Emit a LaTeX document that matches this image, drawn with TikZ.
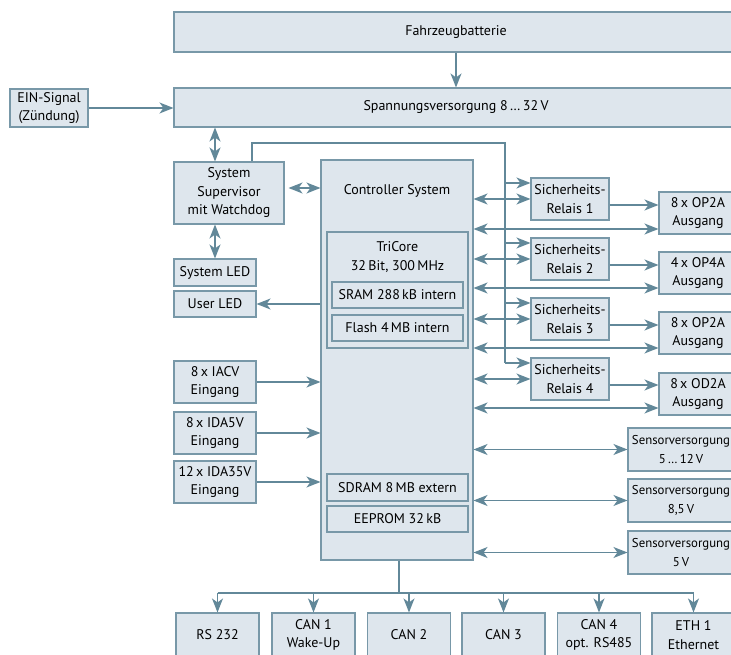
\documentclass[tikz,border=0pt]{standalone}
\usepackage{fontspec}
\setmainfont{PT Sans}
\usetikzlibrary{arrows.meta}

\definecolor{boxfill}{RGB}{222,230,237}
\definecolor{boxline}{RGB}{120,152,168}
\definecolor{arrline}{RGB}{98,136,153}

\tikzset{
	blk/.style={draw=boxline, fill=boxfill, line width=1.1pt, inner sep=0pt, align=center, font=\fontsize{14}{18.5}\selectfont},
	sensblk/.style={blk, font=\fontsize{12.8}{18.5}\selectfont},
	txt/.style={inner sep=0pt, align=center, font=\fontsize{14}{18.5}\selectfont},
	wire/.style={draw=arrline, line width=1.3pt},
	arr/.style={wire, -{Stealth[length=14pt,width=11pt,inset=4pt]}},
	dbl/.style={wire, {Stealth[length=14pt,width=11pt,inset=4pt]}-{Stealth[length=14pt,width=11pt,inset=4pt]}}
}

\begin{document}
\begin{tikzpicture}[x=1pt,y=1pt]
		\useasboundingbox (0,0) rectangle (731,655);
		\clip (0,0) rectangle (731,655);

		% power
		\node[blk, minimum width=564pt, minimum height=40pt] (batt) at (456,623) {Fahrzeugbatterie};
		\node[blk, minimum width=564pt, minimum height=39pt] (spann) at (456,547.5) {Spannungsversorgung 8\,…\,32\,V};
		\node[blk, minimum width=78pt, minimum height=38pt] (ein) at (49,547) {EIN-Signal\\(Zündung)};

		% left column
		\node[blk, minimum width=110pt, minimum height=62pt] (sup) at (229,462) {System\\Supervisor\\mit Watchdog};
		\node[blk, minimum width=82pt, minimum height=27pt] (sysled) at (215,382.5) {System LED};
		\node[blk, minimum width=82pt, minimum height=26pt] (userled) at (215,351) {User LED};
		\node[blk, minimum width=82pt, minimum height=42pt] (iacv) at (215,273) {8\,x IACV\\Eingang};
		\node[blk, minimum width=82pt, minimum height=42pt] (ida5) at (215,222) {8\,x IDA5V\\Eingang};
		\node[blk, minimum width=82pt, minimum height=42pt] (ida35) at (215,173) {12\,x IDA35V\\Eingang};

		% controller
		\node[blk, minimum width=152pt, minimum height=400pt] (ctrl) at (397,295) {};
		\node[txt] (ctrltitle) at (397,464) {Controller System};
		\node[blk, minimum width=141pt, minimum height=116pt] (tricore) at (397.5,365) {};
		\node[txt] (tricoretitle) at (397.5,398) {TriCore\\32\,Bit, 300\,MHz};
		\node[blk, minimum width=131pt, minimum height=26pt] (sram) at (397.5,360) {SRAM 288\,kB intern};
		\node[blk, minimum width=131pt, minimum height=26pt] (flash) at (397.5,327) {Flash 4\,MB intern};
		\node[blk, minimum width=141pt, minimum height=27pt] (sdram) at (397.5,167.5) {SDRAM 8\,MB extern};
		\node[blk, minimum width=141pt, minimum height=26pt] (eeprom) at (397.5,136) {EEPROM 32\,kB};

		% relays and outputs
		\node[blk, minimum width=78pt, minimum height=42pt] (relais1) at (570,456) {Sicherheits-\\Relais 1};
		\node[blk, minimum width=78pt, minimum height=42pt] (relais2) at (570,396) {Sicherheits-\\Relais 2};
		\node[blk, minimum width=78pt, minimum height=42pt] (relais3) at (570,336) {Sicherheits-\\Relais 3};
		\node[blk, minimum width=78pt, minimum height=42pt] (relais4) at (570,276) {Sicherheits-\\Relais 4};
		\node[blk, minimum width=78pt, minimum height=42pt] (out1) at (698,442) {8\,x OP2A\\Ausgang};
		\node[blk, minimum width=78pt, minimum height=42pt] (out2) at (698,382) {4\,x OP4A\\Ausgang};
		\node[blk, minimum width=78pt, minimum height=42pt] (out3) at (698,322) {8\,x OP2A\\Ausgang};
		\node[blk, minimum width=78pt, minimum height=42pt] (out4) at (698,261) {8\,x OD2A\\Ausgang};

		% sensor supplies
		\node[sensblk, minimum width=106pt, minimum height=43pt] (sens1) at (681,205.5) {Sensorversorgung\\5\,…\,12\,V};
		\node[sensblk, minimum width=106pt, minimum height=43pt] (sens2) at (681,154.5) {Sensorversorgung\\8,5\,V};
		\node[sensblk, minimum width=106pt, minimum height=43pt] (sens3) at (681,102.5) {Sensorversorgung\\5\,V};

		% bus
		\node[blk, minimum width=83pt, minimum height=44pt] (rs232) at (217.5,20) {RS 232};
		\node[blk, minimum width=83pt, minimum height=44pt] (can1) at (313.5,20) {CAN 1\\Wake-Up};
		\node[blk, minimum width=83pt, minimum height=44pt] (can2) at (409,20) {CAN 2};
		\node[blk, minimum width=83pt, minimum height=44pt] (can3) at (503.5,20) {CAN 3};
		\node[blk, minimum width=83pt, minimum height=44pt] (can4) at (599,20) {CAN 4\\opt. RS485};
		\node[blk, minimum width=83pt, minimum height=44pt] (eth) at (693.5,20) {ETH 1\\Ethernet};

		\coordinate (tap) at (505,512);
		\coordinate (bus) at (399,62);

		\draw[arr] (batt.south) -- (spann.north);
		\draw[arr] (ein.east) -- (ein.east -| spann.west);
		\draw[dbl] (spann.south -| sysled.north) -- (sup.north -| sysled.north);
		\draw[dbl] (sup.south -| sysled.north) -- (sysled.north);
		\draw[dbl] ([xshift=4pt,yshift=5pt]sup.east) -- ([yshift=5pt]sup.east -| ctrl.west);
		\draw[arr] (userled.east -| ctrl.west) -- (userled.east);
		\draw[arr] (iacv.east) -- (iacv.east -| ctrl.west);
		\draw[arr] (ida5.east) -- (ida5.east -| ctrl.west);
		\draw[arr] (ida35.east) -- (ida35.east -| ctrl.west);

		% supervisor to relays
		\draw[wire] ([xshift=23pt]sup.north) |- (tap) -- ([yshift=16pt]relais4.west -| tap);
		\draw[arr] ([yshift=16pt]relais1.west -| tap) -- ([yshift=16pt]relais1.west);
		\draw[arr] ([yshift=16pt]relais2.west -| tap) -- ([yshift=16pt]relais2.west);
		\draw[arr] ([yshift=16pt]relais3.west -| tap) -- ([yshift=16pt]relais3.west);
		\draw[arr] ([yshift=16pt]relais4.west -| tap) -- ([yshift=16pt]relais4.west);

		\draw[dbl] (relais1.west -| ctrl.east) -- (relais1.west);
		\draw[dbl] (relais2.west -| ctrl.east) -- (relais2.west);
		\draw[dbl] (relais3.west -| ctrl.east) -- (relais3.west);
		\draw[dbl] (relais4.west -| ctrl.east) -- (relais4.west);

		\draw[arr] ([yshift=-6pt]relais1.east) -- ([yshift=-6pt]relais1.east -| out1.west);
		\draw[arr] ([yshift=-6pt]relais2.east) -- ([yshift=-6pt]relais2.east -| out2.west);
		\draw[arr] ([yshift=-6pt]relais3.east) -- ([yshift=-6pt]relais3.east -| out3.west);
		\draw[arr] ([yshift=-6pt]relais4.east) -- ([yshift=-6pt]relais4.east -| out4.west);

		\draw[dbl] ([yshift=-16pt]out1.west -| ctrl.east) -- ([yshift=-16pt]out1.west);
		\draw[dbl] ([yshift=-15pt]out2.west -| ctrl.east) -- ([yshift=-15pt]out2.west);
		\draw[dbl] ([yshift=-15pt]out3.west -| ctrl.east) -- ([yshift=-15pt]out3.west);
		\draw[dbl] ([yshift=-14pt]out4.west -| ctrl.east) -- ([yshift=-14pt]out4.west);

		\draw[dbl] (sens1.west -| ctrl.east) -- (sens1.west);
		\draw[dbl] (sens2.west -| ctrl.east) -- (sens2.west);
		\draw[dbl] (sens3.west -| ctrl.east) -- (sens3.west);

		% bus lines
		\draw[wire] (ctrl.south -| bus) -- (bus);
		\draw[wire] (bus -| rs232.north) -- (bus -| eth.north);
		\draw[arr] (bus -| rs232.north) -- (rs232.north);
		\draw[arr] (bus -| can1.north) -- (can1.north);
		\draw[arr] (bus -| can2.north) -- (can2.north);
		\draw[arr] (bus -| can3.north) -- (can3.north);
		\draw[arr] (bus -| can4.north) -- (can4.north);
		\draw[arr] (bus -| eth.north) -- (eth.north);
	\end{tikzpicture}
\end{document}
